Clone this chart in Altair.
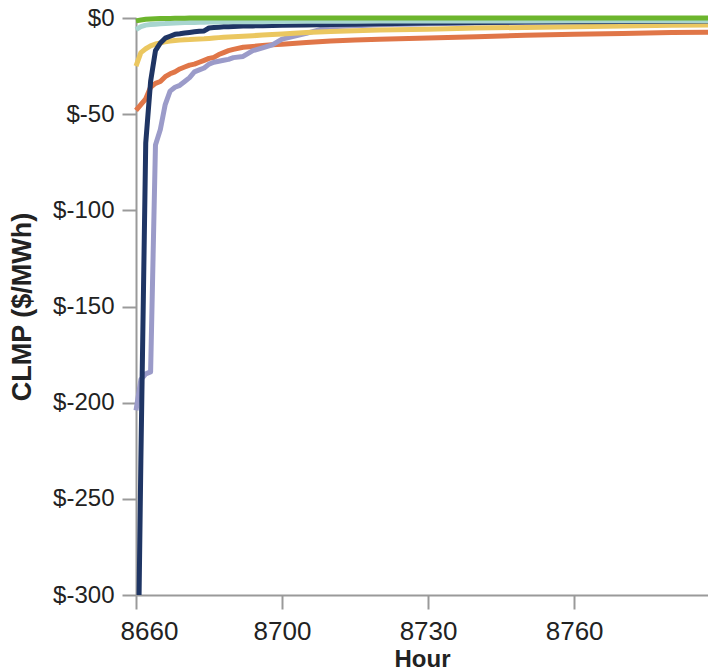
import altair as alt
import pandas as pd

hours = list(range(8670, 8691)) + [8692, 8694, 8696, 8698, 8700, 8705, 8710, 8715,
                                   8720, 8730, 8740, 8750, 8760, 8770, 8780, 8789]

orange = [-48, -45, -42, -36, -34, -33, -30.5, -29, -28, -26.5, -25.5, -24.5, -24, -23,
          -22, -21, -20.5, -19, -18, -17, -16.3, -15.2, -14.8, -14.3, -13.9, -13.6,
          -12.8, -12, -11.5, -11.1, -10.4, -9.7, -9, -8.5, -8, -7.6, -7.3]
lavender = [-204, -188, -185, -184, -66, -58, -45, -38, -36, -35, -33, -31, -28, -27,
            -26, -24, -23, -22.5, -22, -21.5, -20.6, -20, -17, -15.5, -14, -11, -8,
            -4.5, -4, -3.5, -3, -2.6, -2.2, -2, -1.8, -1.7, -1.6]
yellow = [-25, -18, -16, -14.5, -13.5, -13, -12.3, -12, -11.7, -11.5, -11.3, -11.2, -11,
          -10.9, -10.8, -10.6, -10.4, -10.2, -10, -9.9, -9.8, -9.5, -9.2, -8.9, -8.6,
          -8.3, -7.6, -7, -6.6, -6.2, -5.8, -5.2, -4.9, -4.5, -4.1, -3.8, -3.6]
navy = [-420, -230, -65, -33, -17, -13, -10.5, -9.5, -8.5, -8.2, -7.8, -7.5, -7.2, -6.9,
        -6.7, -5.2, -5, -4.8, -4.6, -4.5, -4.4, -4.2, -4.1, -4, -3.9, -3.8, -3.6, -3.4,
        -3.2, -3, -2.6, -2.3, -2.1, -1.9, -1.8, -1.7, -1.6]
teal = [-6, -4.5, -3.7, -3.4, -3.2, -3, -2.9, -2.7, -2.6, -2.5, -2.4, -2.35, -2.3, -2.2,
        -2.15, -2.1, -2.1, -2.05, -2, -2, -2, -1.95, -1.9, -1.9, -1.85, -1.8, -1.75, -1.7,
        -1.65, -1.6, -1.55, -1.5, -1.5, -1.45, -1.45, -1.4, -1.4]
green = [-1.5, -1, -0.7, -0.5, -0.4, -0.3, -0.2, -0.2, -0.15, -0.1, -0.1, 0, 0, 0,
         0, 0, 0, 0, 0, 0, 0, 0, 0, 0, 0, 0, 0, 0, 0, 0, 0, 0, 0, 0, 0, 0, 0]

series = [
    ("Zone 1", orange, "#e07648", False),
    ("Zone 2", lavender, "#9b9bc9", False),
    ("Zone 3", yellow, "#ebc760", False),
    ("Zone 4", navy, "#1f3564", True),
    ("Zone 5", teal, "#a8d5cf", False),
    ("Zone 6", green, "#6cb52d", False),
]

rows = []
for name, vals, _, _ in series:
    for h, v in zip(hours, vals):
        rows.append({"Hour": h, "CLMP": v, "Series": name})
df = pd.DataFrame(rows)

FONT = "Liberation Sans"

x_enc = alt.X(
    "Hour:Q",
    scale=alt.Scale(domain=[8670, 8787.5], nice=False, zero=False),
    axis=alt.Axis(
        title="Hour",
        values=[8670, 8700, 8730, 8760],
        format="d",
        labelExpr="datum.value == 8670 ? '8660' : datum.label",
        grid=False,
        labelFontSize=26,
        titleFontSize=24,
        labelPadding=9,
        titlePadding=3,
        labelFlush=True,
        labelFlushOffset=16,
    ),
)
y_enc = alt.Y(
    "CLMP:Q",
    scale=alt.Scale(domain=[-300, 0], nice=False, zero=False),
    axis=alt.Axis(
        title="CLMP ($/MWh)",
        values=[0, -50, -100, -150, -200, -250, -300],
        labelExpr="'$' + datum.value",
        grid=False,
        labelFontSize=24,
        titleFontSize=27,
        labelPadding=8,
        titlePadding=16,
    ),
)

layers = []
for name, _, color, clip in series:
    layers.append(
        alt.Chart(df)
        .transform_filter(alt.datum.Series == name)
        .mark_line(color=color, strokeWidth=5, clip=clip, strokeJoin="round")
        .encode(x=x_enc, y=y_enc)
    )

chart = (
    alt.layer(*layers)
    .properties(
        width=572,
        height=577,
        autosize=alt.AutoSizeParams(type="none"),
        padding={"left": 128, "top": 10, "right": 0, "bottom": 80},
    )
    .configure_view(strokeWidth=0)
    .configure_axis(
        domainColor="#9a9a9a",
        domainWidth=2,
        tickColor="#9a9a9a",
        tickWidth=2,
        tickSize=14,
        labelFont=FONT,
        labelColor="#222222",
        titleFont=FONT,
        titleFontWeight="bold",
        titleColor="#222222",
    )
)

chart.save("out.html", embed_options={"renderer": "svg", "actions": False})
